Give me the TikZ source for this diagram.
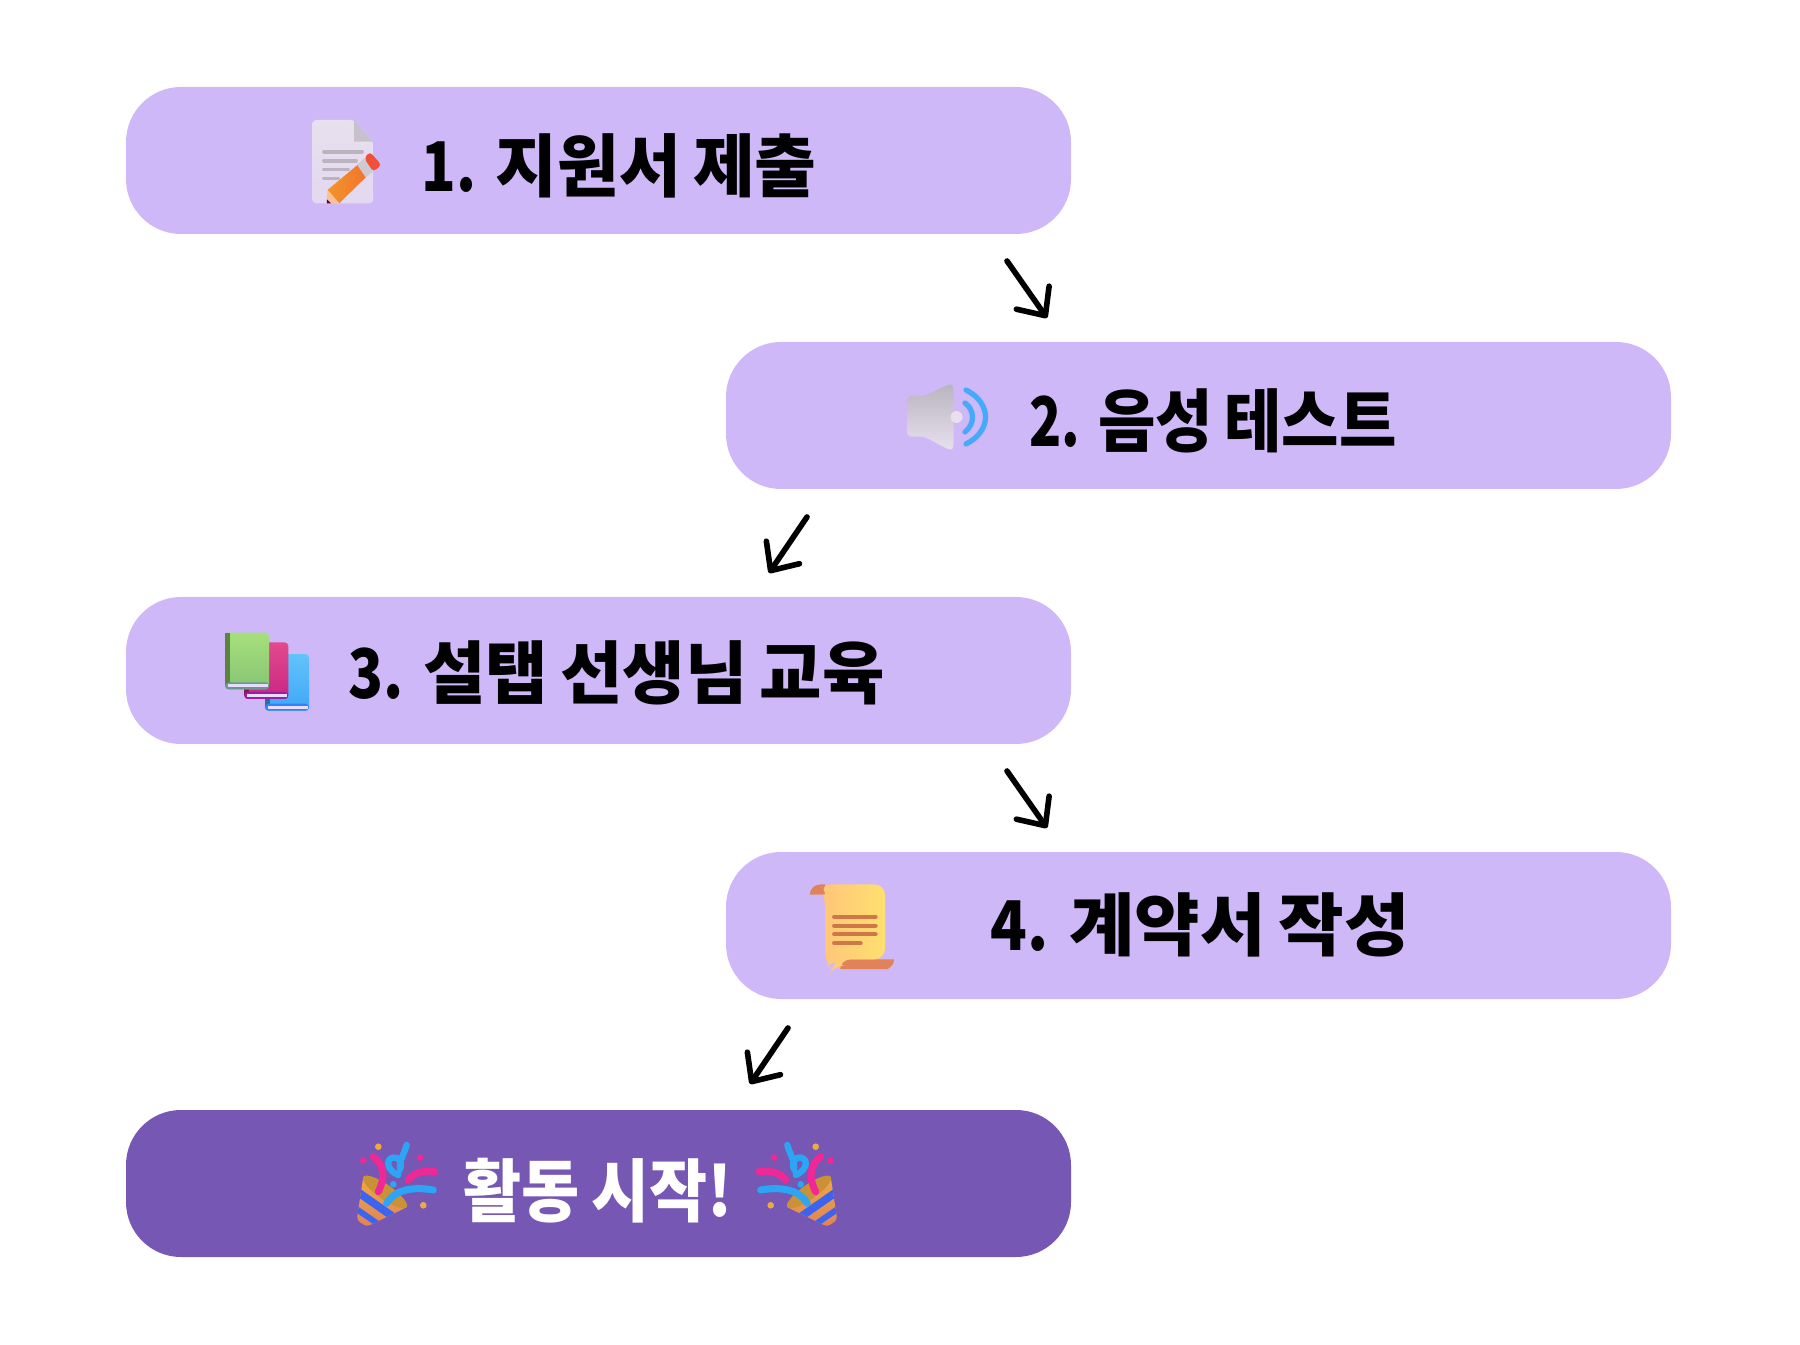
\documentclass[tikz,border=0pt]{standalone}
\usepackage{fontspec}
\newfontfamily\korfont[FakeStretch=0.99]{Noto Sans CJK KR}
\newfontfamily\numfont[FakeStretch=0.84]{Noto Sans CJK KR}
\usetikzlibrary{arrows.meta}
\definecolor{lilac}{RGB}{206,184,247}
\definecolor{grape}{RGB}{118,87,179}
\definecolor{ink}{RGB}{0,0,0}
\definecolor{paper}{RGB}{232,224,238}
\definecolor{pencil}{RGB}{240,130,50}
\definecolor{eraser}{RGB}{240,80,55}
\definecolor{steel}{RGB}{185,180,192}
\definecolor{wave}{RGB}{70,170,250}
\definecolor{bookgreen}{RGB}{150,218,100}
\definecolor{bookpink}{RGB}{222,42,120}
\definecolor{bookblue}{RGB}{70,185,248}
\definecolor{parch}{RGB}{255,205,135}
\definecolor{curl}{RGB}{225,130,90}
\definecolor{rust}{RGB}{205,120,70}
\definecolor{gold}{RGB}{238,170,65}
\definecolor{party}{RGB}{240,40,150}
\definecolor{sky}{RGB}{45,165,245}
\definecolor{royal}{RGB}{60,100,240}
\newcommand{\wgap}{\hspace{3.5pt}}
\newcommand{\ngap}{\hspace{5.5pt}}
\newcommand{\stepno}[1]{{\numfont\bfseries #1.}\ngap}
\tikzset{
  >={Straight Barb[length=2.2mm,width=4mm,round]},
  stagebox/.style={fill=#1,rounded corners=5.5mm,minimum width=94.5mm,minimum height=14.7mm,inner sep=0pt},
  stagebox/.default=lilac,
  stagetext/.style={anchor=base west,inner sep=0pt,font=\fontsize{19.5}{24}\korfont\bfseries,text=#1},
  stagetext/.default=ink,
  flow/.style={->,line width=1.6pt,line cap=round,draw=ink},
  % pictograms
  pics/docpencil/.style={code={
    \shade[top color=paper,bottom color=paper!80!lilac,rounded corners=1pt] (-0.305,-0.418) -- (-0.305,0.415) -- (0.112,0.415) -- (0.302,0.198) -- (0.302,-0.418) -- cycle;
    \fill[steel!70!paper] (0.112,0.415) -- (0.112,0.198) -- (0.302,0.198) -- cycle;
    \foreach \y/\w in {0.098/0.19,0.008/0.13,-0.08/0.05,-0.17/-0.05} \draw[steel,line width=1.1pt,line cap=round] (-0.19,\y) -- (\w,\y);
    \shade[left color=pencil!85!yellow,right color=pencil!90!red] (-0.155,-0.285) -- (0.145,-0.035) -- (0.228,-0.158) -- (-0.038,-0.418) -- cycle;
    \fill[steel!70!white] (0.145,-0.035) -- (0.212,0.032) -- (0.302,-0.102) -- (0.228,-0.158) -- cycle;
    \fill[eraser,rounded corners=1pt] (0.212,0.032) -- (0.268,0.098) -- (0.385,-0.035) -- (0.302,-0.102) -- cycle;
    \fill[pencil!50!white] (-0.155,-0.285) -- (-0.038,-0.418) -- (-0.162,-0.418) -- cycle;
    \fill[violet!70!black] (-0.162,-0.418) -- (-0.16,-0.38) -- (-0.12,-0.418) -- cycle;
  }},
  pics/speaker/.style={code={
    \shade[top color=steel,bottom color=paper,rounded corners=1pt] (-0.385,0.21) -- (-0.218,0.21) -- (0.048,0.337) -- (0.075,0.3) -- (0.075,-0.3) -- (0.048,-0.337) -- (-0.218,-0.197) -- (-0.385,-0.197) -- cycle;
    \fill[paper] (0.105,0) circle (0.06);
    \draw[wave,line width=1.5pt,line cap=round] (0.19,0.14) .. controls (0.29,0.07) and (0.29,-0.07) .. (0.19,-0.15);
    \draw[wave,line width=1.5pt,line cap=round] (0.2,0.27) .. controls (0.46,0.14) and (0.46,-0.14) .. (0.2,-0.27);
  }},
  pics/bookpile/.style={code={
    \foreach \x/\y/\cover in {-0.02/-0.387/bookblue,-0.227/-0.27/bookpink,-0.42/-0.173/bookgreen}{
      \shade[top color=\cover!85!white,bottom color=\cover!90!blue,rounded corners=1pt] (\x,\y) rectangle ++(0.44,0.566);
      \fill[\cover!60!black] (\x,\y+0.04) rectangle ++(0.05,0.526);
      \fill[\cover!70!blue,rounded corners=1pt] (\x,\y) rectangle ++(0.44,0.07);
      \fill[lilac!50!white] (\x+0.025,\y+0.02) rectangle ++(0.405,0.03);
    }
  }},
  pics/scroll/.style={code={
    \fill[curl] (-0.42,0.32) arc (180:90:0.1) -- (-0.27,0.422) -- (-0.27,0.32) -- cycle;
    \fill[curl] (-0.12,-0.328) -- (0.42,-0.328) arc (0:-60:0.1) -- (0.36,-0.425) -- (-0.12,-0.425) -- cycle;
    \shade[left color=parch!90!orange,right color=parch!70!yellow!90!white,rounded corners=3pt] (-0.32,0.422) -- (0.33,0.422) -- (0.33,-0.328) -- (-0.12,-0.328) arc (0:-90:0.06) -- (-0.2,-0.425) -- (-0.27,-0.36) -- (-0.27,0.3) -- cycle;
    \fill[curl] (-0.42,0.32) arc (180:0:0.075) -- cycle;
    \foreach \y/\w in {0.098/0.237,0.008/0.237,-0.078/0.237,-0.168/0.087} \draw[rust,line width=1.1pt,line cap=round] (-0.18,\y) -- (\w,\y);
  }},
  pics/popper/.style={code={
    \shade[top color=gold,bottom color=curl,rounded corners=1pt] (-0.327,0.083) -- (0.107,-0.223) -- (-0.293,-0.417) -- (-0.393,-0.35) -- cycle;
    \fill[royal] (-0.347,-0.047) -- (-0.013,-0.281) -- (-0.093,-0.32) -- (-0.36,-0.134) -- cycle;
    \fill[royal] (-0.373,-0.22) -- (-0.173,-0.359) -- (-0.233,-0.388) -- (-0.383,-0.285) -- cycle;
    \fill[gold!85!black,rotate around={-35:(-0.11,-0.07)}] (-0.11,-0.07) ellipse (0.265 and 0.075);
    \draw[party,line width=2pt,line cap=round] (-0.177,-0.067) .. controls (-0.1,0.08) and (-0.12,0.2) .. (-0.227,0.283);
    \draw[sky,line width=2pt,line cap=round] (-0.093,-0.183) .. controls (0,-0.03) and (0.2,-0.02) .. (0.373,-0.05);
    \draw[party,line width=2pt,line cap=round] (0.123,0.05) .. controls (0.18,0.13) and (0.3,0.15) .. (0.39,0.133);
    \draw[sky,line width=1.8pt,line cap=round] (0.023,0.1) .. controls (-0.12,0.16) and (-0.1,0.3) .. (0.01,0.27) .. controls (0.08,0.24) and (0.03,0.1) .. (0.04,0.2) .. controls (0.05,0.28) and (0.09,0.33) .. (0.107,0.4);
    \foreach \x/\y/\dotcol in {-0.177/0.383/gold,-0.327/0.243/party,0.24/0.273/party,0.273/-0.203/gold,-0.027/0.007/sky}
      \fill[\dotcol] (\x,\y) circle (0.033);
  }},
}
\begin{document}
\begin{tikzpicture}
  \useasboundingbox (0,0) rectangle (18,13.44);
  % stages
  \node[stagebox] (apply) at (5.985,11.835) {};
  \node[stagebox] (voice) at (11.985,9.285) {};
  \node[stagebox] (teach) at (5.985,6.735) {};
  \node[stagebox] (sign) at (11.985,4.185) {};
  \node[stagebox=grape] (start) at (5.985,1.605) {};
  % labels
  \node[stagetext] (applytext) at (4.21,11.52) {\scalebox{0.99}[1]{\stepno{1}지원서\wgap 제출}};
  \node[stagetext] (voicetext) at (10.29,8.97) {\scalebox{0.92}[1]{\stepno{2}음성\wgap 테스트}};
  \node[stagetext] (teachtext) at (3.48,6.45) {\scalebox{1}[1]{\stepno{3}설탭\wgap 선생님\wgap 교육}};
  \node[stagetext] (signtext) at (9.9,3.94) {\scalebox{1.05}[1]{\stepno{4}계약서\wgap 작성}};
  \node[stagetext=white] (starttext) at (4.63,1.28) {\scalebox{0.93}[1]{활동\wgap 시작!}};
  % icons
  \pic at (3.43,11.825) {docpencil};
  \pic at (9.46,9.27) {speaker};
  \pic at (2.67,6.72) {bookpile};
  \pic at (8.52,4.175) {scroll};
  \pic at (3.96,1.59) {popper};
  \pic[xscale=-1] at (7.98,1.59) {popper};
  % arrows
  \coordinate (a1) at (10.07,10.83);
  \coordinate (b1) at (10.47,10.26);
  \coordinate (a2) at (8.07,8.27);
  \coordinate (b2) at (7.69,7.71);
  \coordinate (a3) at (10.07,5.73);
  \coordinate (b3) at (10.47,5.16);
  \coordinate (a4) at (7.88,3.16);
  \coordinate (b4) at (7.5,2.6);
  \foreach \n in {1,2,3,4} \draw[flow] (a\n) -- (b\n);
\end{tikzpicture}
\end{document}
